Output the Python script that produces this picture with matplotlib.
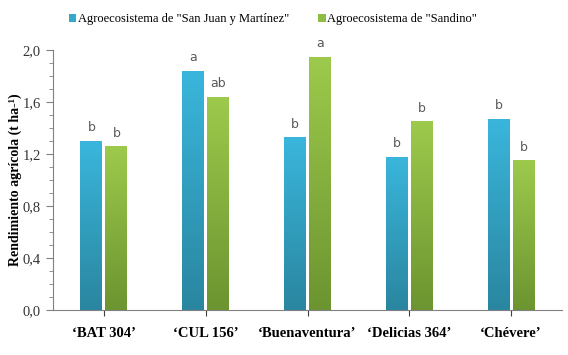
import numpy as np
import matplotlib
matplotlib.use("Agg")
import matplotlib.pyplot as plt
from matplotlib.ticker import MultipleLocator
from matplotlib.colors import LinearSegmentedColormap
from matplotlib.patches import Patch
from matplotlib.font_manager import FontProperties

plt.rcParams["font.family"] = ["Liberation Serif", "DejaVu Serif"]

categories = ["\u2018BAT 304\u2019", "\u2018CUL 156\u2019", "\u2018Buenaventura\u2019", "\u2018Delicias 364\u2019", "\u2018Chévere\u2019"]
series_names = ['Agroecosistema de "San Juan y Martínez"', 'Agroecosistema de "Sandino"']
san_juan = [1.30, 1.84, 1.33, 1.18, 1.47]
sandino = [1.26, 1.64, 1.95, 1.45, 1.15]
letters_sj = ["b", "a", "b", "b", "b"]
letters_sd = ["b", "ab", "a", "b", "b"]

fig = plt.figure(figsize=(5.68, 3.55), dpi=100)
ax = fig.add_axes([53/568, 1 - 310/355, (562-53)/568, 260/355])

x = np.arange(len(categories))
w = 0.215
off = 0.123
cm_blue = LinearSegmentedColormap.from_list("b", ["#2a86a0", "#3ab6dc"])
cm_green = LinearSegmentedColormap.from_list("g", ["#6c9430", "#9dca4c"])

def grad_bar(xc, h, cmap):
    bars = ax.bar(xc, h, w, color="none", edgecolor="none", zorder=2)
    b = bars[0]
    grad = np.linspace(0, 1, 256).reshape(-1, 1)
    im = ax.imshow(grad, cmap=cmap, origin="lower", aspect="auto",
                   extent=[xc - w/2, xc + w/2, 0, h], zorder=2)
    im.set_clip_path(b)

for i in range(len(categories)):
    grad_bar(x[i] - off, san_juan[i], cm_blue)
    grad_bar(x[i] + off, sandino[i], cm_green)
    ax.text(x[i] - off, san_juan[i] + 0.05, letters_sj[i], ha="center", va="bottom",
            fontsize=9, color="#595959", family="DejaVu Sans")
    ax.text(x[i] + off, sandino[i] + 0.05, letters_sd[i], ha="center", va="bottom",
            fontsize=9, color="#595959", family="DejaVu Sans")

ax.set_xlim(-0.5, len(categories) - 0.5)
ax.set_ylim(0, 2.0)
ax.yaxis.set_major_locator(MultipleLocator(0.4))
ax.yaxis.set_minor_locator(MultipleLocator(0.1))
ax.set_yticklabels([f"{v:.1f}".replace(".", ",") for v in ax.get_yticks()])
ax.set_xticks(x)
ax.set_xticklabels(categories, fontweight="bold", fontsize=10.5)
for lab in ax.get_yticklabels():
    lab.set_fontsize(10.5)
    lab.set_color("#333333")
ax.tick_params(axis="y", which="major", length=5, color="#808080", pad=4)
ax.tick_params(axis="y", which="minor", length=3, color="#808080")
ax.tick_params(axis="x", which="major", length=4, color="#404040", pad=8)
for s in ["top", "right"]:
    ax.spines[s].set_visible(False)
ax.spines["left"].set_color("#808080")
ax.spines["bottom"].set_color("#808080")
ax.set_ylabel("Rendimiento agrícola (t ha-\u00b9)", fontweight="bold", fontsize=10)
ax.yaxis.set_label_coords(-0.06, 0.5)

handles = [Patch(facecolor="#35a9cc"), Patch(facecolor="#8dbd44")]
leg = fig.legend(handles, series_names, loc="center", bbox_to_anchor=(273/568, 1 - 19/355),
                 ncol=2, frameon=False,
                 prop=FontProperties(family="Liberation Serif", size=9),
                 handlelength=0.6, handleheight=0.6, handletextpad=0.15, columnspacing=2.3)

fig.savefig("out.png", dpi=100)
